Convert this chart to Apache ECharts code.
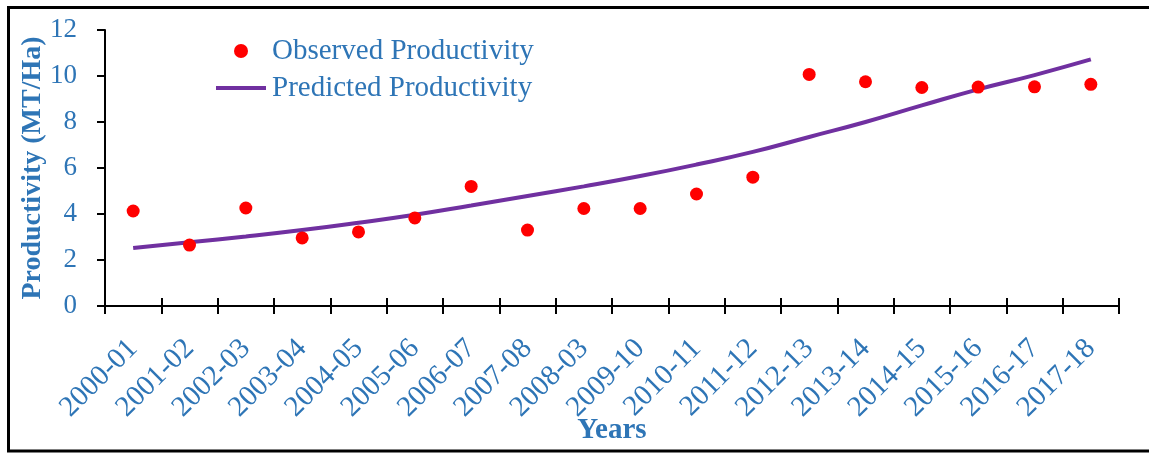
<!DOCTYPE html>
<html>
<head>
<meta charset="utf-8">
<script src="https://cdn.jsdelivr.net/npm/echarts@6/dist/echarts.min.js"></script>
<style>
html,body{margin:0;padding:0;background:#fff;}
#c{width:1149px;height:453px;}
</style>
</head>
<body>
<div id="c"></div>
<script>
const years = ['2000-01','2001-02','2002-03','2003-04','2004-05','2005-06','2006-07','2007-08','2008-03','2009-10','2010-11','2011-12','2012-13','2013-14','2014-15','2015-16','2016-17','2017-18'];
const observed = [4.13, 2.65, 4.26, 2.96, 3.22, 3.83, 5.2, 3.3, 4.24, 4.24, 4.87, 5.6, 10.07, 9.75, 9.5, 9.52, 9.53, 9.64];
const predicted = [2.52, 2.77, 3.02, 3.3, 3.62, 3.97, 4.37, 4.78, 5.2, 5.65, 6.15, 6.7, 7.35, 8.0, 8.72, 9.42, 10.04, 10.72];
const yTicks = [0, 2, 4, 6, 8, 10, 12];

const FONT = '"Liberation Serif", "Times New Roman", serif';
const BLUE = '#2E75B6';

const chart = echarts.init(document.getElementById('c'), null, {renderer: 'canvas'});
chart.setOption({
  animation: false,
  backgroundColor: '#fff',
  textStyle: {fontFamily: FONT},
  grid: {left: 105, right: 30, top: 30, bottom: 147, containLabel: false, outerBoundsMode: 'none'},
  legend: {
    orient: 'vertical',
    left: 216, top: 36, padding: 0,
    itemWidth: 50, itemHeight: 14, itemGap: 7,
    textStyle: {fontFamily: FONT, fontSize: 29, color: BLUE, lineHeight: 30, padding: [0, 0, 0, 1]},
    data: [
      {name: 'Observed Productivity', icon: 'circle'},
      {name: 'Predicted Productivity', icon: 'path://M0,0H50V4H0Z', itemStyle: {color: '#7030A0'}}
    ]
  },
  xAxis: [{
    type: 'category',
    data: years,
    boundaryGap: true,
    name: 'Years',
    nameLocation: 'middle',
    nameGap: 110,
    nameMoveOverlap: false,
    nameTextStyle: {fontFamily: FONT, fontSize: 29, fontWeight: 'bold', color: BLUE},
    axisLine: {lineStyle: {color: '#000', width: 2}},
    axisTick: {show: true, length: 8, lineStyle: {color: '#000', width: 2}, alignWithLabel: false},
    axisLabel: {rotate: 45, margin: 38, fontFamily: FONT, fontSize: 29, color: BLUE, interval: 0},
    splitLine: {show: false}
  }, {
    type: 'category',
    data: years,
    position: 'bottom',
    boundaryGap: true,
    axisLine: {show: false},
    axisTick: {show: true, inside: true, length: 8, lineStyle: {color: '#000', width: 2}},
    axisLabel: {show: false},
    splitLine: {show: false}
  }],
  yAxis: {
    type: 'value',
    min: yTicks[0], max: yTicks[yTicks.length - 1], interval: 2,
    name: 'Productivity (MT/Ha)',
    nameLocation: 'middle',
    nameGap: 58,
    nameMoveOverlap: false,
    nameTextStyle: {fontFamily: FONT, fontSize: 28, fontWeight: 'bold', color: BLUE},
    axisLine: {show: true, lineStyle: {color: '#000', width: 2}},
    axisTick: {show: true, length: 8, lineStyle: {color: '#000', width: 2}},
    axisLabel: {margin: 28, fontFamily: FONT, fontSize: 27, color: BLUE},
    splitLine: {show: false}
  },
  series: [{
    name: 'Observed Productivity',
    type: 'scatter',
    data: observed,
    symbolSize: 13,
    itemStyle: {color: '#FF0000', opacity: 1},
    z: 3
  }, {
    name: 'Predicted Productivity',
    type: 'line',
    data: predicted,
    smooth: true,
    symbol: 'none',
    lineStyle: {color: '#7030A0', width: 4},
    itemStyle: {color: '#7030A0'},
    z: 2
  }],
  graphic: [{
    type: 'rect',
    shape: {x: 8.5, y: 7.5, width: 1145, height: 443.5},
    style: {fill: 'none', stroke: '#000', lineWidth: 3},
    silent: true
  }]
});
</script>
</body>
</html>
